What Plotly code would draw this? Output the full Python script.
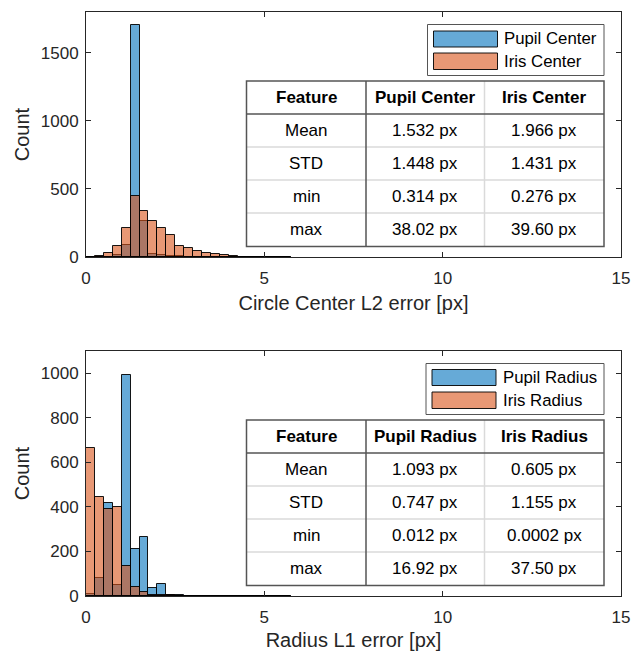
import plotly.graph_objects as go

# ---------------- data ----------------
bin_width = 0.25
bin_starts = [0.0, 0.25, 0.5, 0.75, 1.0, 1.25, 1.5, 1.75, 2.0, 2.25, 2.5, 2.75,
              3.0, 3.25, 3.5, 3.75, 4.0, 4.25, 4.5, 4.75, 5.0, 5.25, 5.5]

pupil_center_counts = [0, 2, 3, 12, 86, 1705, 264, 24, 14, 6, 4, 3,
                       2, 2, 2, 1, 1, 2, 2, 1, 1, 1, 1]
iris_center_counts = [0, 9, 32, 83, 212, 450, 336, 266, 215, 158, 83, 63,
                      47, 32, 22, 17, 4, 3, 3, 2, 2, 1, 1]

pupil_radius_counts = [8, 80, 419, 48, 994, 210, 266, 34, 52, 4, 3, 2,
                       1, 1, 1, 1, 1, 0, 0, 0, 0, 0, 0]
iris_radius_counts = [666, 443, 389, 398, 136, 42, 17, 4, 3, 3, 2, 2,
                      1, 1, 1, 1, 0, 0, 0, 0, 0, 0, 0]

table_features = ["Mean", "STD", "min", "max"]
center_cols = ["Pupil Center", "Iris Center"]
pupil_center_stats = ["1.532 px", "1.448 px", "0.314 px", "38.02 px"]
iris_center_stats = ["1.966 px", "1.431 px", "0.276 px", "39.60 px"]
radius_cols = ["Pupil Radius", "Iris Radius"]
pupil_radius_stats = ["1.093 px", "0.747 px", "0.012 px", "16.92 px"]
iris_radius_stats = ["0.605 px", "1.155 px", "0.0002 px", "37.50 px"]

x_ticks = [0, 5, 10, 15]
top_y_ticks = [0, 500, 1000, 1500]
bottom_y_ticks = [0, 200, 400, 600, 800, 1000]

# ---------------- styling ----------------
W, H = 633, 654
FONT = "Liberation Sans, Arial, Helvetica, sans-serif"
AX_COLOR = "#262626"
BLUE = "rgba(0,114,189,0.6)"
ORANGE = "rgba(217,83,25,0.6)"
EDGE = "rgba(0,0,0,0.9)"
DARK = "rgb(85,85,85)"
LIGHT = "rgb(218,218,218)"
TABLE_SIZE = 17


def px(x):
    return x / W


def py(y):
    return 1 - y / H


centers = [s + bin_width / 2 for s in bin_starts]

fig = go.Figure()

panels = [
    ("x", "y", pupil_center_counts, iris_center_counts, center_cols),
    ("x2", "y2", pupil_radius_counts, iris_radius_counts, radius_cols),
]
for xa, ya, blue_vals, orange_vals, names in panels:
    fig.add_trace(go.Bar(x=centers, y=blue_vals, width=bin_width, name=names[0],
                         marker=dict(color=BLUE, line=dict(color=EDGE, width=1)),
                         xaxis=xa, yaxis=ya, showlegend=False))
    fig.add_trace(go.Bar(x=centers, y=orange_vals, width=bin_width, name=names[1],
                         marker=dict(color=ORANGE, line=dict(color=EDGE, width=1)),
                         xaxis=xa, yaxis=ya, showlegend=False))

axis_common = dict(
    showline=True, linecolor=AX_COLOR, linewidth=1, mirror="ticks",
    ticks="inside", ticklen=5, tickcolor=AX_COLOR, tickwidth=1,
    showgrid=False, zeroline=False,
    tickfont=dict(family=FONT, size=17, color=AX_COLOR),
    automargin=False,
)

top_dom = [py(257), py(12)]
bot_dom = [py(596), py(351)]
x_dom = [px(86), px(621)]
TITLE_FONT = dict(family=FONT, size=20, color=AX_COLOR)

fig.update_layout(
    width=W, height=H,
    margin=dict(l=0, r=0, t=0, b=0),
    paper_bgcolor="white", plot_bgcolor="white",
    barmode="overlay", bargap=0,
    font=dict(family=FONT, color=AX_COLOR),
    xaxis=dict(domain=x_dom, anchor="y", range=[0, 15], tickvals=x_ticks,
               ticklabelstandoff=6,
               title=dict(text="Circle Center L2 error [px]", font=TITLE_FONT, standoff=8),
               **axis_common),
    yaxis=dict(domain=top_dom, anchor="x", range=[0, 1800], tickvals=top_y_ticks,
               ticklabelstandoff=3,
               title=dict(text="Count", font=TITLE_FONT, standoff=5),
               **axis_common),
    xaxis2=dict(domain=x_dom, anchor="y2", range=[0, 15], tickvals=x_ticks,
                ticklabelstandoff=6,
                title=dict(text="Radius L1 error [px]", font=TITLE_FONT, standoff=6),
                **axis_common),
    yaxis2=dict(domain=bot_dom, anchor="x2", range=[0, 1100], tickvals=bottom_y_ticks,
                ticklabelstandoff=3,
                title=dict(text="Count", font=TITLE_FONT, standoff=5),
                **axis_common),
)

shapes = []
annotations = []


def add_line(x0, y0, x1, y1, color, width):
    shapes.append(dict(type="line", xref="paper", yref="paper",
                       x0=px(x0), y0=py(y0), x1=px(x1), y1=py(y1),
                       line=dict(color=color, width=width), layer="above"))


def add_text(x, y, text, size=TABLE_SIZE, bold=False, xanchor="center", color="black"):
    t = f"<b>{text}</b>" if bold else text
    annotations.append(dict(xref="paper", yref="paper", x=px(x), y=py(y), text=t,
                            showarrow=False, xanchor=xanchor, yanchor="middle",
                            font=dict(family=FONT, size=size, color=color)))


def draw_legend(box, sw_x, sw_rows, text_x, labels):
    bx0, by0, bx1, by1 = box
    shapes.append(dict(type="rect", xref="paper", yref="paper",
                       x0=px(bx0), y0=py(by1), x1=px(bx1), y1=py(by0),
                       fillcolor="white", line=dict(color=DARK, width=1), layer="above"))
    for (r0, r1), col, lab in zip(sw_rows, [BLUE, ORANGE], labels):
        shapes.append(dict(type="rect", xref="paper", yref="paper",
                           x0=px(sw_x[0]), y0=py(r1), x1=px(sw_x[1]), y1=py(r0),
                           fillcolor=col, line=dict(color=EDGE, width=1), layer="above"))
        add_text(text_x, (r0 + r1) / 2, lab, size=16.8, xanchor="left", color="black")


def draw_table(left, right, col_x, rows_y, header, col1, col2, col3):
    top, bottom = rows_y[0], rows_y[-1]
    shapes.append(dict(type="rect", xref="paper", yref="paper",
                       x0=px(left), y0=py(bottom), x1=px(right), y1=py(top),
                       fillcolor="white", line=dict(width=0), layer="above"))
    for y in rows_y[2:-1]:
        add_line(left, y, right, y, LIGHT, 1.5)
    add_line(col_x[1], top, col_x[1], bottom, LIGHT, 1.5)
    add_line(left, rows_y[1], right, rows_y[1], DARK, 1.5)
    add_line(col_x[0], top, col_x[0], bottom, DARK, 1.5)
    shapes.append(dict(type="rect", xref="paper", yref="paper",
                       x0=px(left), y0=py(bottom), x1=px(right), y1=py(top),
                       line=dict(color=DARK, width=1.5), layer="above"))
    cx = [(left + col_x[0]) / 2, (col_x[0] + col_x[1]) / 2, (col_x[1] + right) / 2]
    for c, h in zip(cx, header):
        add_text(c, (rows_y[0] + rows_y[1]) / 2, h, bold=True)
    for i in range(len(col1)):
        yc = (rows_y[i + 1] + rows_y[i + 2]) / 2
        add_text(cx[0], yc, col1[i])
        add_text(cx[1], yc, col2[i])
        add_text(cx[2], yc, col3[i])


# top panel
draw_legend((427.5, 24.5, 604, 75.5), (433.5, 497.5), [(31, 47), (53, 69.5)], 502,
            center_cols)
draw_table(246.5, 604, (366, 484.5), [81, 114, 147, 180, 213, 246.5],
           ["Feature"] + center_cols, table_features, pupil_center_stats, iris_center_stats)

# bottom panel
draw_legend((426, 363.5, 604, 414.5), (432, 496), [(369.5, 385.5), (392, 408.5)], 501,
            radius_cols)
draw_table(246.5, 604, (366, 484.5), [420, 453, 486, 519, 552, 585.5],
           ["Feature"] + radius_cols, table_features, pupil_radius_stats, iris_radius_stats)

fig.update_layout(shapes=shapes, annotations=annotations)

# remove the default page margin so the 633x654 figure fills the window exactly
fig.write_html("out.html",
               config={"displayModeBar": False},
               post_script="document.body.style.margin='0';"
                           "document.documentElement.style.overflow='hidden';")
